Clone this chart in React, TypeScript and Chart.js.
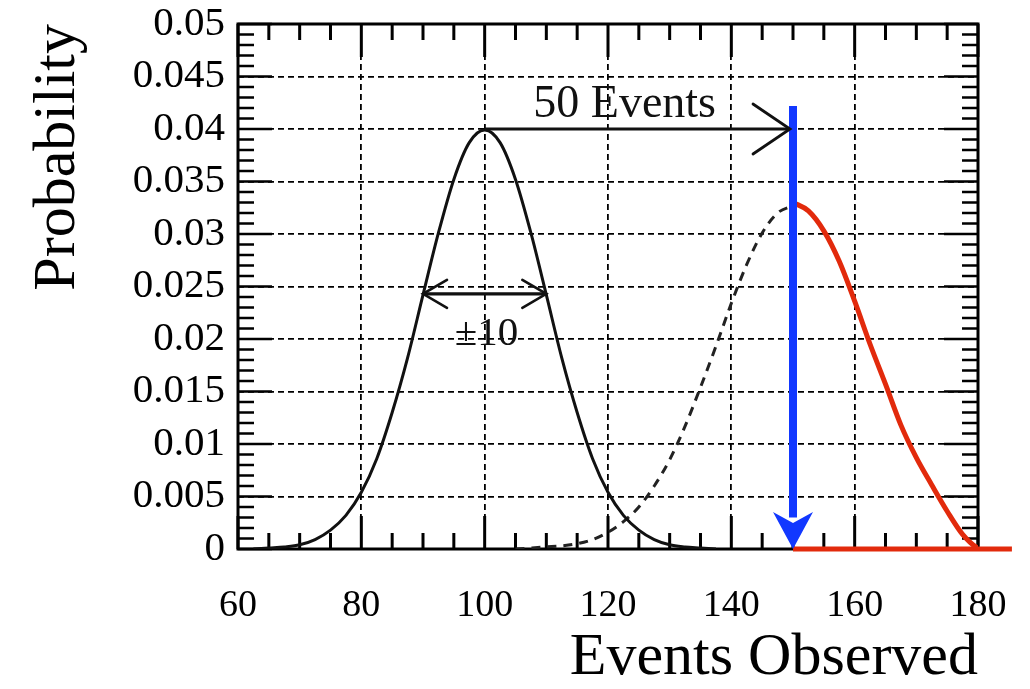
import React, { useEffect, useRef } from "react";
import { Chart, registerables } from "chart.js";

Chart.register(...registerables);

// ---- axis setup ----
const X_MIN = 60;
const X_MAX = 180;
const X_STEP = 20;
const Y_MIN = 0;
const Y_MAX = 0.05;
const Y_STEP = 0.005;

// ---- black curve: expected distribution around 100 ----
const blackX = [62.5, 65, 67.5, 70, 72.5, 75, 77.5, 80, 82.5, 85, 87.5, 90, 92.5, 95, 97.5, 100,
  102.5, 105, 107.5, 110, 112.5, 115, 117.5, 120, 122.5, 125, 127.5, 130, 132.5, 135, 137.5];
const blackY = [0.0, 0.0001, 0.0002, 0.0004, 0.0009, 0.0018, 0.0032, 0.0054, 0.0086, 0.013, 0.0182, 0.0242, 0.0301, 0.0352, 0.0387, 0.0399,
  0.0387, 0.0352, 0.0301, 0.0242, 0.0182, 0.013, 0.0086, 0.0054, 0.0032, 0.0018, 0.0009, 0.0004, 0.0002, 0.0001, 0.0];

// ---- dashed curve: distribution around 150, left half ----
const dashedX = [105, 107.5, 110, 112.5, 115, 117.5, 120, 122.5, 125, 127.5, 130, 132.5, 135, 137.5, 140, 142.5, 145, 147.5, 150];
const dashedY = [0.0, 0.0001, 0.0002, 0.0003, 0.0005, 0.0009, 0.0016, 0.0026, 0.004, 0.006, 0.0085, 0.0117, 0.0154, 0.0193, 0.0234, 0.0271, 0.0301, 0.032, 0.0327];

// ---- red curve: right half beyond 150 ----
const redX = [150, 152.5, 155, 157.5, 160, 162.5, 165, 167.5, 170, 172.5, 175, 177.5, 180, 181];
const redY = [0.033, 0.0322, 0.0303, 0.0274, 0.0236, 0.0195, 0.0157, 0.0118, 0.0087, 0.0061, 0.0036, 0.0014, 0.0001, 0.0];
const redBaseX = [150, 185.5];
const redBaseY = [0, 0];

// ---- annotations ----
const blueArrowX = [150, 150];
const blueArrowY = [0.0422, 0.003];
const blueTip = { x: 150, y: 0 };
const shiftArrowX = [100, 150];
const shiftArrowY = [0.04, 0.04];
const widthArrowX = [90, 110];
const widthArrowY = [0.0243, 0.0243];
const shiftLabel = { text: "50 Events", x: 122.7, y: 0.0411 };
const widthLabel = { text: "±10", x: 100.3, y: 0.0194 };

const SERIF = "'Liberation Serif', 'DejaVu Serif', 'Times New Roman', serif";
const RED = "#e22a0c";
const BLUE = "#1238ff";

const pts = (xs: number[], ys: number[]) => xs.map((x, i) => ({ x, y: ys[i] }));

const fmtY = (v: number | string) => {
  const n = Number(v);
  return String(Number(n.toFixed(3)));
};

const frameTicksPlugin = {
  id: "frameTicks",
  beforeDatasetsDraw(chart: any) {
    const { ctx, chartArea, scales } = chart;
    const { left, right, top, bottom } = chartArea;
    const xs = scales.x;
    const ys = scales.y;
    ctx.save();
    ctx.strokeStyle = "#000";
    ctx.setLineDash([]);
    for (let v = X_MIN; v <= X_MAX + 1e-9; v += 5) {
      const px = xs.getPixelForValue(v);
      const major = Math.abs(v % X_STEP) < 1e-9;
      const len = major ? 33 : 16;
      ctx.lineWidth = 3;
      ctx.beginPath();
      ctx.moveTo(px, bottom);
      ctx.lineTo(px, bottom - len);
      ctx.moveTo(px, top);
      ctx.lineTo(px, top + len);
      ctx.stroke();
    }
    for (let i = 0; i <= 50; i++) {
      const py = ys.getPixelForValue(i * 0.001);
      const major = i % 5 === 0;
      const len = major ? 34 : 16;
      ctx.lineWidth = 2.4;
      ctx.beginPath();
      ctx.moveTo(left, py);
      ctx.lineTo(left + len, py);
      ctx.moveTo(right, py);
      ctx.lineTo(right - len, py);
      ctx.stroke();
    }
    ctx.lineWidth = 3;
    ctx.strokeRect(left, top, right - left, bottom - top);
    ctx.restore();
  },
};

const annotationPlugin = {
  id: "annots",
  afterDatasetsDraw(chart: any) {
    const { ctx, scales } = chart;
    const xs = scales.x;
    const ys = scales.y;
    const P = (x: number, y: number) => [xs.getPixelForValue(x), ys.getPixelForValue(y)];
    ctx.save();
    ctx.setLineDash([]);
    ctx.strokeStyle = "#111";
    ctx.lineCap = "round";

    const chevron = (tx: number, ty: number, dir: number, back: number, half: number, w: number) => {
      ctx.lineWidth = w;
      ctx.beginPath();
      ctx.moveTo(tx - dir * back, ty - half);
      ctx.lineTo(tx, ty);
      ctx.lineTo(tx - dir * back, ty + half);
      ctx.stroke();
    };

    const [sx, sy] = P(shiftArrowX[1], shiftArrowY[1]);
    chevron(sx - 3, sy, 1, 37, 25, 2.8);

    const [lx, ly] = P(widthArrowX[0], widthArrowY[0]);
    const [rx, ry] = P(widthArrowX[1], widthArrowY[1]);
    chevron(lx, ly, -1, 24, 14, 2.6);
    chevron(rx, ry, 1, 24, 14, 2.6);

    const [bx, by] = P(blueTip.x, blueTip.y);
    ctx.fillStyle = BLUE;
    ctx.beginPath();
    ctx.moveTo(bx, by);
    ctx.lineTo(bx - 20, by - 37);
    ctx.lineTo(bx, by - 26);
    ctx.lineTo(bx + 20, by - 37);
    ctx.closePath();
    ctx.fill();

    ctx.fillStyle = "#111";
    ctx.textAlign = "center";
    ctx.textBaseline = "alphabetic";
    ctx.font = `46px ${SERIF}`;
    const [t1x, t1y] = P(shiftLabel.x, shiftLabel.y);
    ctx.fillText(shiftLabel.text, t1x, t1y);
    ctx.font = `41px ${SERIF}`;
    const [t2x, t2y] = P(widthLabel.x, widthLabel.y);
    ctx.fillText(widthLabel.text, t2x, t2y);
    ctx.restore();
  },
};

export default function App() {
  const ref = useRef<HTMLCanvasElement>(null);
  useEffect(() => {
    if (!ref.current) return;
    const chart = new Chart(ref.current, {
      type: "line",
      data: {
        datasets: [
          {
            label: "observed",
            data: pts(blueArrowX, blueArrowY),
            borderColor: BLUE,
            borderWidth: 8,
            pointRadius: 0,
            borderCapStyle: "butt",
          },
          {
            label: "tail",
            data: pts(redX, redY),
            borderColor: RED,
            borderWidth: 5,
            pointRadius: 0,
            cubicInterpolationMode: "monotone",
          },
          {
            label: "tail base",
            data: pts(redBaseX, redBaseY),
            borderColor: RED,
            borderWidth: 5,
            pointRadius: 0,
            clip: false,
          },
          {
            label: "shift",
            data: pts(shiftArrowX, shiftArrowY),
            borderColor: "#111",
            borderWidth: 2.8,
            pointRadius: 0,
          },
          {
            label: "width",
            data: pts(widthArrowX, widthArrowY),
            borderColor: "#111",
            borderWidth: 3.2,
            pointRadius: 0,
          },
          {
            label: "expected",
            data: pts(blackX, blackY),
            borderColor: "#111",
            borderWidth: 3,
            pointRadius: 0,
            cubicInterpolationMode: "monotone",
          },
          {
            label: "shifted",
            data: pts(dashedX, dashedY),
            borderColor: "#222",
            borderWidth: 3,
            borderDash: [9, 7],
            pointRadius: 0,
            cubicInterpolationMode: "monotone",
          },
        ] as any,
      },
      options: {
        animation: false,
        responsive: true,
        maintainAspectRatio: false,
        events: [],
        layout: { padding: { left: 0, right: 44, top: 16, bottom: 0 } },
        plugins: {
          legend: { display: false },
          tooltip: { enabled: false },
          title: { display: false },
        },
        scales: {
          x: {
            type: "linear",
            min: X_MIN,
            max: X_MAX,
            afterFit: (s: any) => {
              s.height = 132;
              s.paddingLeft = 0;
              s.paddingRight = 0;
              s.paddingTop = 0;
              s.paddingBottom = 0;
            },
            ticks: {
              stepSize: X_STEP,
              color: "#000",
              padding: 38,
              maxRotation: 0,
              font: { family: SERIF, size: 38, lineHeight: 1 },
            },
            grid: { color: "#000", lineWidth: 1.8, drawTicks: false },
            border: { display: false, dash: [6, 4] },
            title: {
              display: true,
              text: "Events Observed",
              align: "end",
              color: "#000",
              font: { family: SERIF, size: 60, lineHeight: 1 },
              padding: { top: 0, bottom: -7 },
            },
          },
          y: {
            type: "linear",
            min: Y_MIN,
            max: Y_MAX,
            afterFit: (s: any) => {
              s.width = 230;
              s.paddingLeft = 0;
              s.paddingRight = 0;
              s.paddingTop = 0;
              s.paddingBottom = 0;
            },
            ticks: {
              stepSize: Y_STEP,
              color: "#000",
              padding: 13,
              callback: (v: any) => fmtY(v),
              font: { family: SERIF, size: 41, lineHeight: 0.8 },
            },
            grid: { color: "#000", lineWidth: 1.8, drawTicks: false },
            border: { display: false, dash: [6, 4] },
            title: {
              display: true,
              text: "Probability",
              align: "end",
              color: "#000",
              font: { family: SERIF, size: 60, lineHeight: 1 },
              padding: { top: 20, bottom: 0 },
            },
          },
        },
      } as any,
      plugins: [frameTicksPlugin, annotationPlugin],
    });
    return () => chart.destroy();
  }, []);

  return (
    <div style={{ position: "relative", width: "1014px", height: "673px" }}>
      <canvas ref={ref} />
    </div>
  );
}
